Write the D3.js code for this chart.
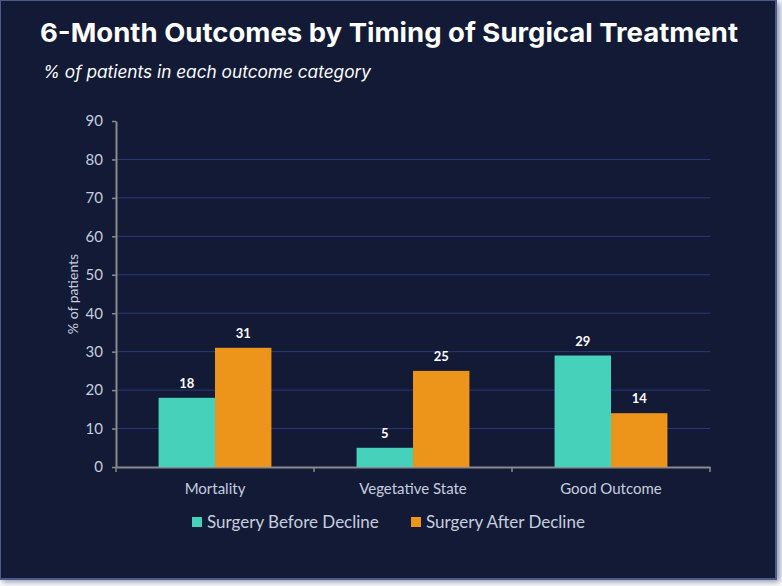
<!DOCTYPE html>
<html>
<head>
<meta charset="utf-8">
<script src="https://cdn.jsdelivr.net/npm/d3@7"></script>
<style>
  body { margin: 0; background: #ffffff; }
  svg { display: block; }
</style>
</head>
<body>
<div id="chart"></div>
<script>
var categories = ['Mortality', 'Vegetative State', 'Good Outcome'];
var seriesNames = ['Surgery Before Decline', 'Surgery After Decline'];
var beforeValues = [18, 5, 29];
var afterValues = [31, 25, 14];
var yTicks = [0, 10, 20, 30, 40, 50, 60, 70, 80, 90];
var colors = ['#46d1bb', '#ec951a'];

var width = 782, height = 586;
var margin = {top: 121, right: 72, bottom: 119, left: 116};
var plotW = width - margin.left - margin.right,
    plotH = height - margin.top - margin.bottom;

var svg = d3.select('#chart').append('svg')
    .attr('width', width)
    .attr('height', height);

// slide frame with soft shadow
var defs = svg.append('defs');
var blur = defs.append('filter').attr('id', 'shadow')
    .attr('x', '-5%').attr('y', '-5%').attr('width', '110%').attr('height', '110%');
blur.append('feGaussianBlur').attr('stdDeviation', 3);

svg.append('rect')
    .attr('x', 2).attr('y', 2)
    .attr('width', 778).attr('height', 580)
    .attr('fill', '#8a93ad')
    .attr('filter', 'url(#shadow)');
svg.append('rect')
    .attr('x', 0).attr('y', 0)
    .attr('width', 776).attr('height', 579)
    .attr('fill', '#121a36')
    .attr('stroke', '#4b5a8a')
    .attr('stroke-width', 2);

// titles
svg.append('text')
    .attr('x', 40).attr('y', 42)
    .attr('fill', '#ffffff')
    .attr('font-family', 'Inter, Lato, sans-serif')
    .attr('font-weight', 700)
    .attr('font-size', 26)
    .attr('textLength', 698)
    .attr('lengthAdjust', 'spacingAndGlyphs')
    .text('6-Month Outcomes by Timing of Surgical Treatment');

svg.append('text')
    .attr('x', 43).attr('y', 78)
    .attr('fill', '#ffffff')
    .attr('font-family', 'Inter, Lato, sans-serif')
    .attr('font-style', 'italic')
    .attr('font-size', 17)
    .attr('textLength', 328)
    .attr('lengthAdjust', 'spacingAndGlyphs')
    .text('% of patients in each outcome category');

var g = svg.append('g')
    .attr('transform', 'translate(' + margin.left + ',' + margin.top + ')');

var x0 = d3.scaleBand()
    .domain(categories)
    .range([0, plotW]);

var x1 = d3.scaleBand()
    .domain(seriesNames)
    .range([0, x0.bandwidth() * 0.57])
    .paddingInner(0);

var y = d3.scaleLinear()
    .domain([0, 90])
    .range([plotH, 0]);

// gridlines
g.append('g')
  .selectAll('line')
  .data(yTicks.filter(function(d) { return d > 0 && d < 90; }))
  .enter().append('line')
    .attr('x1', 0).attr('x2', plotW)
    .attr('y1', function(d) { return y(d); })
    .attr('y2', function(d) { return y(d); })
    .attr('stroke', '#2b3a78')
    .attr('stroke-width', 1);

// y axis
var yAxis = g.append('g')
    .call(d3.axisLeft(y).tickValues(yTicks).tickSize(4).tickSizeOuter(0).tickPadding(9));
yAxis.select('.domain').attr('stroke', '#8a8a8a').attr('stroke-width', 2);
yAxis.selectAll('.tick line').attr('stroke', '#8a8a8a').attr('stroke-width', 1.5);
yAxis.selectAll('.tick text')
    .attr('fill', '#c6cedf')
    .attr('font-family', 'Lato, sans-serif')
    .attr('font-size', 15);

svg.append('text')
    .attr('transform', 'translate(78,' + (margin.top + plotH / 2) + ') rotate(-90)')
    .attr('text-anchor', 'middle')
    .attr('fill', '#c6cedf')
    .attr('font-family', 'Lato, sans-serif')
    .attr('font-size', 14)
    .text('% of patients');

// x axis
var xAxis = g.append('g')
    .attr('transform', 'translate(0,' + plotH + ')')
    .call(d3.axisBottom(x0).tickSize(0).tickPadding(16));
xAxis.select('.domain').attr('stroke', '#8a8a8a').attr('stroke-width', 2);
xAxis.selectAll('.tick text')
    .attr('fill', '#c6cedf')
    .attr('font-family', 'Lato, sans-serif')
    .attr('font-size', 15);

// category boundary ticks
xAxis.append('g')
  .selectAll('line')
  .data([0, 1, 2, 3])
  .enter().append('line')
    .attr('x1', function(d) { return d * x0.step(); })
    .attr('x2', function(d) { return d * x0.step(); })
    .attr('y1', 0).attr('y2', 5)
    .attr('stroke', '#8a8a8a')
    .attr('stroke-width', 1.5);

// bars
var rows = categories.map(function(c, i) {
  return {cat: c, vals: [
    {name: seriesNames[0], value: beforeValues[i], color: colors[0]},
    {name: seriesNames[1], value: afterValues[i], color: colors[1]}
  ]};
});

var groupOffset = (x0.bandwidth() - x1.range()[1]) / 2;

var grp = g.selectAll('.grp')
    .data(rows)
    .enter().append('g')
    .attr('class', 'grp')
    .attr('transform', function(d) { return 'translate(' + (x0(d.cat) + groupOffset) + ',0)'; });

grp.selectAll('rect')
    .data(function(d) { return d.vals; })
    .enter().append('rect')
    .attr('x', function(d) { return x1(d.name); })
    .attr('width', x1.bandwidth())
    .attr('y', function(d) { return y(d.value); })
    .attr('height', function(d) { return plotH - y(d.value); })
    .attr('fill', function(d) { return d.color; });

grp.selectAll('text')
    .data(function(d) { return d.vals; })
    .enter().append('text')
    .attr('x', function(d) { return x1(d.name) + x1.bandwidth() / 2; })
    .attr('y', function(d) { return y(d.value) - 10; })
    .attr('text-anchor', 'middle')
    .attr('fill', '#ffffff')
    .attr('font-family', 'Lato, sans-serif')
    .attr('font-weight', 700)
    .attr('font-size', 13)
    .text(function(d) { return d.value; });

// legend
var legendX = [192, 411];
var legend = svg.append('g')
  .selectAll('g')
  .data(seriesNames)
  .enter().append('g')
    .attr('transform', function(d, i) { return 'translate(' + legendX[i] + ',517)'; });

legend.append('rect')
    .attr('width', 10).attr('height', 10)
    .attr('fill', function(d, i) { return colors[i]; });

legend.append('text')
    .attr('x', 15).attr('y', 11)
    .attr('fill', '#c6cedf')
    .attr('font-family', 'Lato, sans-serif')
    .attr('font-size', 17)
    .text(function(d) { return d; });
</script>
</body>
</html>
